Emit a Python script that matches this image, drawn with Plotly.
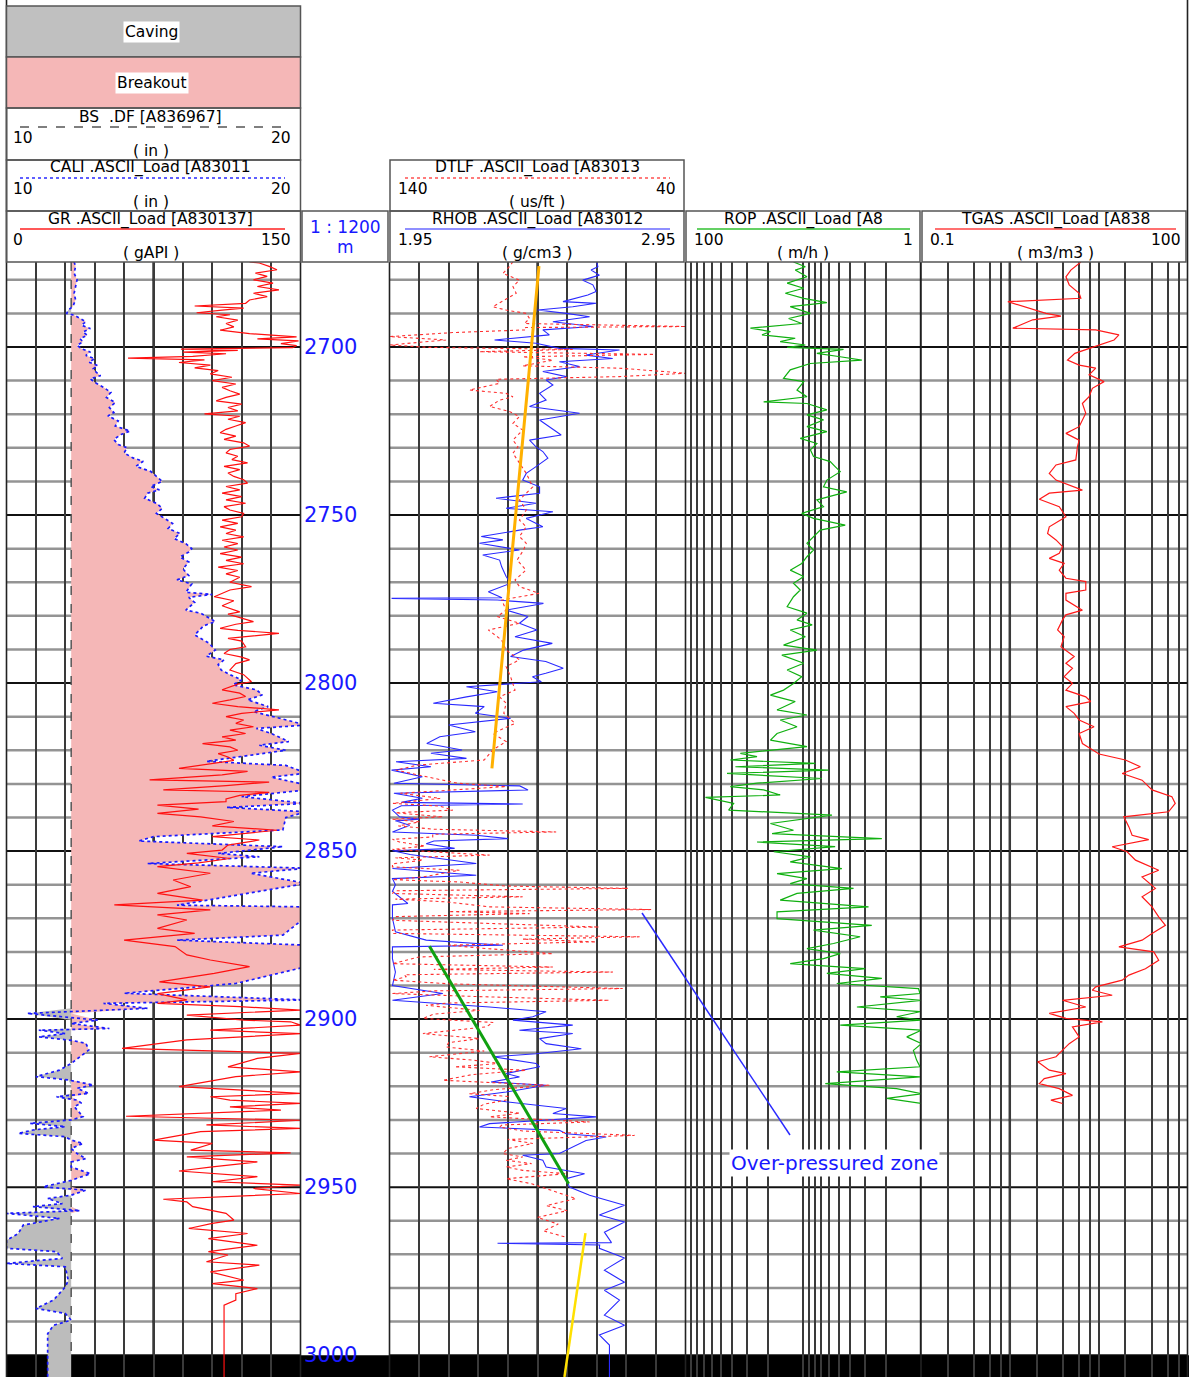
import plotly.graph_objects as go

W, H = 1189, 1377

# ---------------- data (depth m, value) ----------------
GR_LOG = [
 (2674.7,124),(2675,129),(2676,134),(2677,138),(2678,127),(2679,133),(2680,126),(2681,136),(2682,128),(2683,139),
 (2684,126),(2685,133),(2686,124),(2687,122),(2687.8,96),(2688.4,121),(2689,110),(2689.8,97),(2690.4,114),(2691,107),
 (2692,118),(2693,112),(2694,116),(2695,109),(2696,124),(2697,148),(2697.6,128),(2698.2,149),(2699,140),(2699.6,148),
 (2700.2,146),(2700.6,89),(2701,118),(2701.5,90),(2702,112),(2702.8,95),(2703.3,62),(2703.8,101),(2704.6,88),(2705.4,104),
 (2706.2,96),(2707,108),(2708,104),(2709,115),(2710,105),(2711,117),(2712,110),(2713,114),(2714,119),(2715,112),
 (2716,107),(2717,120),(2718,113),(2719,118),(2719.9,101),(2720.6,119),(2721.5,113),(2722.5,122),(2723.5,117),(2724.5,112),
 (2725.5,109),(2726.5,117),(2727.5,111),(2728.5,121),(2729.5,124),(2730.5,114),(2731.5,112),(2732.5,118),(2733.5,115),(2734.5,123),
 (2735.5,111),(2736.5,119),(2737.5,113),(2738.5,116),(2739.5,121),(2740.5,123),(2741.5,112),(2742.5,119),(2743.5,110),(2744.5,120),
 (2745.5,112),(2746.5,122),(2747.5,111),(2748.5,114),(2749.5,121),(2750.5,120),(2751.5,110),(2752.5,118),(2753.5,109),(2754.5,117),
 (2755.5,112),(2756.5,121),(2757.5,110),(2758.5,118),(2759.5,111),(2760.4,118),(2761.5,109),(2762.5,120),(2763.5,112),(2764.5,121),
 (2765.5,108),(2766.5,118),(2767.5,112),(2768.5,119),(2770,114),(2771.3,125),(2772.3,114),(2774.3,106),(2775.5,116),(2777,110),
 (2778.8,119),(2779.5,113),(2781.7,126),(2782.5,117),(2783.7,109),(2784.3,118),(2785.2,139),(2786.7,113),(2787.5,120),(2789.2,122),
 (2790,114),(2791.2,111),(2792.3,120),(2793.1,124),(2794.2,117),(2796.1,114),(2797.5,121),(2799.6,125),(2800.3,118),(2802,110),
 (2803,119),(2804,122),(2805,114),(2806,105),(2807,118),(2808,139),(2809,120),(2810,112),(2811,121),(2812,117),
 (2813,126),(2814,114),(2815,122),(2816,110),(2817,117),(2818,100),(2819,114),(2820,118),(2821,108),(2822,113),
 (2823,116),(2824,104),(2825.4,88),(2826.3,123),(2827.3,110),(2828.8,73),(2829.5,134),(2830.5,112),(2831.8,80),(2832.5,134),
 (2833.4,119),(2834.5,112),(2835.3,112),(2836.3,77),(2837.5,98),(2838.8,77),(2839.8,99),(2841.2,116),(2842.5,105),(2843.8,138),
 (2845.7,105),(2846.7,129),(2848.2,113),(2849.7,110),(2850.7,92),(2852.2,114),(2853.5,98),(2854.6,77),(2856.6,104),(2858.6,85),
 (2860.6,94),(2862.6,77),(2864.6,100),(2866,55),(2867.5,104),(2869,77),(2870.5,92),(2873,77),(2874.5,96),(2876.5,60),
 (2878.4,86),(2880.9,92),(2882.4,104),(2884.4,124),(2886.4,106),(2888.9,78),(2890.4,104),(2892.4,77),(2894.3,92),(2895.3,77),
 (2896.3,119),(2897.3,150),(2898.8,92),(2900.3,121),(2900.8,145),(2901.8,150),(2903.3,104),(2904.3,150),(2906.2,92),(2908.7,59),
 (2910.2,150),(2911.7,128),(2914.2,113),(2915.7,150),(2917.1,117),(2920.1,88),(2922.1,150),(2923.1,104),(2924.1,114),(2925.1,150),
 (2926.1,114),(2927.1,140),(2928.9,61),(2930.1,150),(2931.5,102),(2932.5,150),(2933.5,99),(2936,75),(2937,105),(2939,94),
 (2939.8,145),(2941,92),(2942.5,128),(2944,105),(2945.2,88),(2946.9,128),(2948.4,105),(2949.4,150),(2950.4,126),(2951.9,150),
 (2953.6,80),(2954.4,92),(2955.8,95),(2957.8,112),(2959.8,116),(2960.8,105),(2962.3,93),(2963.8,123),(2965.3,103),(2967.3,128),
 (2969.2,103),(2970.2,113),(2972.2,102),(2973.2,129),(2975.2,104),(2977.7,121),(2978.7,105),(2980.2,128),(2981.7,117),(2983.6,117),
 (2985.1,111),(3006.5,111),
]

CALI_LOG = [
 (2674.7,12.3),(2676,12.35),(2678,12.3),(2680,12.4),(2682,12.35),(2684,12.3),(2686,12.35),(2688,12.25),(2689,12.1),(2690,12.05),
 (2690.5,12.3),(2691.5,12.5),(2692.5,12.7),(2693.5,12.55),(2694.5,12.85),(2695.5,12.6),(2696.5,12.75),(2697.5,12.5),(2698.5,12.6),(2699.5,12.4),
 (2700.5,12.55),(2701.5,12.85),(2702.5,12.7),(2703.5,13.0),(2704.5,12.8),(2705.5,13.1),(2706.5,12.95),(2707.5,13.05),(2708.5,13.2),(2709.5,12.85),
 (2710.5,13.0),(2712,13.3),(2713.5,13.55),(2715,13.4),(2716.5,13.7),(2718,13.5),(2719.5,13.65),(2720.5,13.45),(2722,13.8),(2723.5,13.7),
 (2725,14.2),(2726,13.9),(2727.5,13.65),(2729,13.8),(2730,14.1),(2731.5,14.0),(2733,14.3),(2734,14.65),(2735.5,14.4),(2737,14.9),
 (2738.5,15.1),(2740,15.3),(2741.5,14.9),(2742.5,15.2),(2743.5,14.8),(2745,14.7),(2746.5,15.1),(2748,15.3),(2749.5,15.1),(2751,15.4),
 (2752.5,15.65),(2754,15.5),(2755.5,15.9),(2757,15.7),(2758.5,16.1),(2760,16.3),(2761,16.2),(2762.5,15.9),(2764,16.2),(2766,16.0),
 (2768,16.2),(2769.3,15.8),(2770.5,16.3),(2773,16.1),(2773.6,17.0),(2774.5,16.2),(2776,16.4),(2778.3,16.1),(2779.2,16.6),(2781.7,17.1),
 (2783,16.7),(2785.7,16.4),(2788.2,16.9),(2790.2,17.1),(2792,16.8),(2793.1,17.4),(2794.5,17.2),(2796.1,17.3),(2797.5,17.6),(2799.1,18.0),
 (2800.5,17.7),(2802,18.5),(2803.5,18.7),(2805,18.2),(2807,18.9),(2808.5,18.4),(2810.5,19.3),(2812.5,20.2),(2813.5,18.5),(2815,19.0),
 (2817.4,19.6),(2818.5,18.6),(2820,19.5),(2821.5,18.2),(2823.3,16.8),(2824.5,19.5),(2826.8,20.2),(2828,19.0),(2830.3,20.2),(2831.8,20.2),
 (2833.8,18.0),(2835.8,20.2),(2837,17.5),(2838.3,20.2),(2840,19.5),(2843.7,19.4),(2845.7,15.0),(2847,14.5),(2848.7,19.4),(2850.7,17.2),
 (2851.7,18.6),(2853.7,14.8),(2855.1,20.2),(2856.6,18.3),(2859.6,20.2),(2866.1,15.8),(2866.6,20.2),(2869.5,20.2),(2875,19.4),(2876.5,15.8),
 (2878,20.2),(2884.4,20.2),(2886.9,19.0),(2889.4,17.8),(2892.3,14.0),(2894.3,20.2),(2895.3,13.3),(2896.8,14.8),(2898.3,10.7),(2900.3,13.1),
 (2901.3,12.2),(2902.8,13.5),(2903.3,11.1),(2904.3,12.0),(2905.3,11.1),(2906.3,12.2),(2907.2,12.7),(2909.2,12.8),(2911.2,12.5),(2913.2,12.2),
 (2915.2,11.8),(2917.1,11.0),(2918.1,12.1),(2919.6,12.95),(2920.6,12.4),(2922.1,12.8),(2923.1,11.7),(2924.1,12.4),(2925,12.55),(2926,12.3),
 (2929,12.6),(2930,12.2),(2931,10.8),(2932,12.0),(2933,10.9),(2934,10.4),(2935,12.0),(2936,12.2),(2937,12.6),(2938.5,12.2),
 (2940,12.4),(2941.5,12.7),(2942.5,12.2),(2944,12.2),(2946,12.85),(2948,12.2),(2949.9,11.25),(2950.9,12.7),(2952.4,12.2),(2953.4,11.4),
 (2954.9,11.9),(2955.8,10.9),(2957,12.5),(2957.8,10.0),(2959.3,11.8),(2961.3,10.57),(2963.8,10.4),(2965.8,10.0),(2968.2,10.0),(2969.2,11.7),
 (2971.2,11.9),(2972.7,10.0),(2973.7,12.0),(2977.7,12.1),(2979.7,12.0),(2983.6,11.6),(2986.1,11.0),(2987.6,12.0),(2989.6,12.2),(2991.1,11.6),
 (2993.6,11.4),(3000,11.4),(3006.5,11.4),
]
BS_VALUE = 12.2

RHOB_LOG = [
 (2674.7,2.65),(2676.1,2.654),(2677.1,2.631),(2678.6,2.659),(2680.1,2.603),(2681.5,2.637),(2683.5,2.648),(2684.5,2.62),(2686.5,2.536),(2687,2.648),
 (2688,2.569),(2689,2.451),(2690,2.547),(2691,2.626),(2692.5,2.502),(2693.9,2.637),(2694.9,2.468),(2696.4,2.49),(2697.9,2.305),(2698.9,2.445),
 (2700.4,2.524),(2700.9,2.727),(2702.4,2.614),(2703.4,2.704),(2704.4,2.524),(2705.8,2.592),(2707.3,2.468),(2708.8,2.547),(2709.8,2.479),(2711.3,2.502),
 (2713.8,2.457),(2715.8,2.479),(2717.7,2.423),(2719.7,2.592),(2721.7,2.457),(2723.7,2.49),(2726.2,2.53),(2727.7,2.423),(2729.7,2.445),(2731.1,2.468),
 (2733.1,2.485),(2735.6,2.445),(2737.6,2.412),(2739.6,2.40),(2741.6,2.457),(2743.5,2.457),(2745,2.31),(2746.5,2.445),(2748,2.344),(2749,2.502),
 (2751,2.412),(2753.5,2.468),(2754.5,2.389),(2756.4,2.26),(2757.4,2.333),(2758.4,2.254),(2760.4,2.389),(2761.9,2.265),(2763.4,2.322),(2765.4,2.329),
 (2768.3,2.344),(2770.3,2.359),(2772.8,2.284),(2774.6,2.33),(2774.8,1.957),(2775.3,2.314),(2776.3,2.47),(2778.3,2.344),(2780.2,2.418),(2782.2,2.389),
 (2784.2,2.448),(2786.2,2.374),(2788.2,2.50),(2790.2,2.403),(2792.1,2.359),(2793.6,2.478),(2795.6,2.537),(2797.1,2.478),(2798.1,2.433),(2799.6,2.463),
 (2801.1,2.21),(2802.6,2.314),(2804.1,2.21),(2806,2.098),(2807,2.27),(2809,2.24),(2810.5,2.359),(2812.5,2.15),(2814.5,2.24),(2816,2.12),
 (2818,2.076),(2819.9,2.195),(2820.9,2.09),(2822.4,2.21),(2823.4,1.972),(2824.9,2.09),(2825.9,1.957),(2827.9,2.061),(2829.8,1.965),(2830.6,2.39),
 (2831.8,2.418),(2832.8,1.965),(2834.3,2.061),(2835.5,1.99),(2836,2.40),(2836.5,1.99),(2837.8,1.96),(2839.8,1.984),(2840.5,2.05),(2841,1.97),
 (2842.3,2.018),(2844.3,1.96),(2845.3,2.243),(2846.3,2.35),(2847,2.10),(2847.8,2.074),(2849.2,2.17),(2849.9,1.96),(2851,2.02),(2852,2.1),
 (2853.7,2.243),(2855.2,1.96),(2857.2,2.243),(2858.2,1.96),(2860,1.97),(2862,1.96),(2865.6,2.012),(2866,1.96),(2870,1.96),(2874,1.97),
 (2876.5,2.074),(2878,2.333),(2878.5,1.96),(2882,1.96),(2886,1.97),(2890,1.96),(2892.4,2.13),(2894.4,1.96),(2896.4,2.288),(2897.8,2.479),
 (2899.3,2.434),(2900.3,2.367),(2901.8,2.569),(2903.3,2.389),(2904.3,2.569),(2905.8,2.457),(2907.3,2.479),(2908.8,2.598),(2910.3,2.445),(2911.2,2.299),
 (2913.2,2.445),(2914.2,2.457),(2916.2,2.344),(2917.2,2.389),(2918.7,2.293),(2919.7,2.479),(2921.7,2.344),(2923.1,2.22),(2924.6,2.344),(2926.6,2.547),
 (2928.1,2.502),(2929.1,2.648),(2930.1,2.479),(2931.1,2.288),(2932.1,2.254),(2933.1,2.524),(2934.1,2.547),(2935.1,2.682),(2936.1,2.614),(2938,2.569),
 (2940,2.524),(2940.5,2.40),(2942,2.468),(2944,2.479),(2946,2.609),(2947.5,2.547),(2950,2.558),(2952.4,2.626),(2955.4,2.744),(2958.3,2.659),
 (2960.4,2.744),(2963.4,2.676),(2966.5,2.70),(2966.7,2.315),(2967.2,2.66),(2968.2,2.659),(2971.1,2.744),(2974.7,2.676),(2978.3,2.744),(2980.7,2.676),
 (2983.6,2.727),(2988.1,2.676),(2991.1,2.744),(2994,2.659),(2997,2.693),(3006.5,2.693),
]

DTLF_LOG = [
 (2674.6,98.3),(2676.1,99.5),(2678.1,101.7),(2680.1,96.1),(2682,98.3),(2684,97.2),(2686,101.1),(2688,105.1),(2689,100.6),(2690,93.8),
 (2691.5,92.7),(2693,94.4),(2693.9,39.8),(2694.2,94),(2694.9,93.8),(2695.7,118.6),(2696.9,140),(2697.9,120.9),(2699.4,140),(2700.1,126.5),
 (2700.7,78.1),(2701.4,109.6),(2702.2,50.5),(2702.9,95),(2703.9,84.8),(2705.6,95),(2706.3,62.3),(2707.8,39.8),(2708.8,62.3),(2709.6,104),
 (2710.8,102.8),(2712.8,113),(2713.8,100.6),(2714.8,98.3),(2715.8,102.8),(2717.7,106.2),(2719.2,99.5),(2720.7,96.1),(2722.7,98.3),(2724.7,95),
 (2727.7,98.3),(2729.7,96.6),(2731.6,98.3),(2734.6,96.1),(2737.6,93.8),(2741.6,91.6),(2743.5,93.8),(2745.5,96.1),(2748.5,93.8),(2751.5,96.1),
 (2753.5,93.8),(2756.4,96.1),(2758.4,93.8),(2760.4,94.7),(2763.4,96.9),(2766.4,93.9),(2769.3,97.6),(2771.3,96.1),(2773.3,89.5),(2775.3,102.1),
 (2778.3,100.6),(2780.2,103.6),(2782.2,96.1),(2784.2,106.6),(2787.2,102.1),(2790.2,100.6),(2793.1,96.1),(2795.1,100.6),(2798.1,99.1),(2800.1,98.4),
 (2802.1,97.6),(2804.1,102.8),(2806,100.6),(2809,101.4),(2812,97.6),(2815,105.1),(2817.4,100.6),(2819.9,105.1),(2822.9,108),(2824.4,130.4),
 (2825.9,137.8),(2827.9,127.4),(2829.8,117),(2830.8,100.6),(2832.8,136.3),(2834.3,122.9),(2835.8,138.9),(2836.6,123.1),(2837.8,118.6),(2838.6,138),
 (2839.8,122),(2840.5,139),(2841.3,129.9),(2842.5,137),(2843.5,125),(2844.3,83.7),(2845,125.4),(2845.8,125.4),(2846.5,139),(2847.3,136.6),
 (2848.5,128),(2849.5,139),(2851.2,106.2),(2852,138),(2852.7,128.7),(2853.8,139),(2854.7,139),(2855.7,116.4),(2857.7,128.7),(2858.5,139),
 (2859.2,116.4),(2860.4,100.6),(2861.1,59.5),(2861.8,138),(2862.6,139),(2863.6,95),(2864.3,138),(2865.1,120.9),(2866.6,106.2),(2867.4,51.6),
 (2868,120),(2868.6,92.7),(2869.5,138),(2870.6,139),(2871.5,110),(2872.6,69.1),(2873.5,139),(2874.5,138.9),(2875.5,55.5),(2876.2,95),
 (2877,70.2),(2878,120),(2879,107.3),(2880.5,84.8),(2881.5,130),(2883.5,139),(2884.5,84.8),(2885.2,125),(2886,64.5),(2886.8,135),
 (2887.4,134.4),(2888.4,139),(2889.5,120),(2890.9,61.2),(2891.6,125),(2892.4,139),(2893.3,110),(2894.4,65.7),(2895.2,120),(2895.9,127.6),
 (2897.4,109.6),(2898.5,125),(2899.8,128.7),(2901,105),(2902.3,107.3),(2903.3,118),(2904.3,128.7),(2905.8,109.6),(2907,120),(2908.3,120.9),
 (2909.5,108),(2911.2,126.5),(2912.2,112),(2913.2,102.8),(2914.2,118),(2915.2,93.8),(2916.5,112),(2918.2,122),(2919.7,85.9),(2921,105),
 (2922.2,113),(2923,100),(2924.1,100.6),(2925.3,108),(2926.6,110.7),(2928,96),(2929.1,106.2),(2930.6,72.4),(2931.5,102),(2932.1,102.8),
 (2933.3,95),(2934.6,57.2),(2935.8,100),(2937,91.6),(2938.5,100),(2940,101.7),(2941,95),(2942,100.6),(2943,92),(2944,100.6),
 (2945,95),(2946,80.3),(2947.5,100.6),(2949,92),(2951,85),(2953.4,77),(2955.5,87),(2957,80),(2959,90),(2961,83),
 (2963,88),(2965,80),
]

ROP_LOG = [
 (2674.7,12.1),(2676.1,9.6),(2677.1,11.7),(2679.1,9.3),(2681.0,13.7),(2682.5,9.9),(2684.0,14.2),(2685.5,9.9),(2686.8,6.3),(2688.0,12.9),
 (2690.0,8.7),(2691.5,13.3),(2693.0,10.3),(2694.4,28.1),(2695.4,19.0),(2696.4,22.4),(2697.4,11.7),(2698.4,15.7),(2699.4,9.6),(2700.1,13.7),
 (2700.7,4.55),(2701.9,7.66),(2702.9,4.85),(2703.9,3.18),(2704.9,8.7),(2706.8,12.9),(2709.3,14.7),(2710.3,9.9),(2712.8,11.3),(2714.8,9.3),
 (2716.3,21.7),(2716.8,9.3),(2718.7,6.3),(2720.2,9.3),(2721.7,6.73),(2723.7,9.3),(2725.2,6.3),(2727.2,10.6),(2728.7,7.66),(2730.6,8.7),
 (2732.6,8.18),(2734.1,5.9),(2735.6,5.36),(2737.1,4.85),(2739.6,6.3),(2741.6,6.73),(2743.1,4.27),(2745.5,7.66),(2747.5,6.73),(2749.5,10.3),
 (2751,8.18),(2753,4.4),(2754.5,7.18),(2756.4,8.18),(2758.4,9.3),(2760.4,8.18),(2762.4,9.3),(2764.4,10.3),(2766.4,12.9),(2768.3,9.9),
 (2770.3,12.1),(2772.3,10.6),(2774.3,12.1),(2777.3,13.7),(2779.2,9.3),(2781.2,11.3),(2782.7,8.4),(2784.2,12.9),(2786.2,9.6),(2788.7,14.7),
 (2790.2,7.66),(2791.7,15.2),(2794.1,9.9),(2796.1,13.7),(2798.1,10.3),(2800.1,12.1),(2802.1,14.7),(2803.6,19.0),(2805.5,11.7),(2808,16.7),
 (2809.5,9.3),(2811,15.7),(2813,11.3),(2815,16.7),(2817,19.0),(2818.9,9.3),(2820.9,34.2),(2821.9,24.7),(2822.9,41.6),(2823.9,7.9),
 (2824.9,37.7),(2825.9,6.1),(2826.9,44.4),(2828.4,6.95),(2829.8,24.7),(2830.8,41.6),(2831.8,21.7),(2833.3,15.7),(2834,67.7),(2835.8,39),
 (2837.8,43),(2839.3,5.7),(2840.8,12.1),(2841.8,19),(2843.8,12.1),(2844.8,18.4),(2846.3,2.15),(2847.3,24.7),(2848.7,5.36),(2850.2,17.8),
 (2851.7,8.7),(2853.2,12.9),(2855.2,4.7),(2856.7,16.7),(2858.2,9.3),(2859.7,12.9),(2861.1,3.74),(2862.6,11.3),(2864.6,15.7),(2866.6,2.79),
 (2868.1,16.7),(2870.1,16.7),(2872.1,2.62),(2873.5,8.18),(2875.5,3.29),(2877.5,5.53),(2879,9.3),(2880.5,4.85),(2882,6.73),(2883.5,12.9),
 (2885,2.98),(2886.4,6.3),(2887.9,2.15),(2889.4,5.19),(2890.9,1.05),(2892.4,1.02),(2893.4,2.22),(2894.4,0.99),(2896.4,3.5),(2897.8,1.02),
 (2899.3,1.61),(2900.3,0.99),(2901.8,4.85),(2903.3,0.99),(2905.3,1.32),(2907.3,0.99),(2909.3,1.16),(2912.2,1.09),(2914.2,1.02),(2915.7,5.19),
 (2917.2,1.02),(2919.2,6.5),(2920.7,1.61),(2922.2,0.99),(2923.6,1.95),(2925.1,0.99),
]

TGAS_LOG = [
 (2674.7,6.3),(2675.1,6.03),(2677.1,4.86),(2679.1,4.28),(2681.5,4.66),(2684.0,6.03),(2685.5,6.3),(2686.5,0.95),(2687.5,1.28),(2690.0,2.55),
 (2690.8,3.76),(2691.9,1.81),(2694.4,1.08),(2694.9,9.27),(2696.4,16.9),(2697.9,14.9),(2700.1,8.49),(2701.9,5.4),(2703.9,4.46),(2705.4,6.03),
 (2706.3,9.27),(2708.3,7.8),(2710.3,11.5),(2712.3,8.49),(2714.8,7.8),(2716.8,6.56),(2719.7,7.16),(2721.7,6.56),(2723.7,6.03),(2725.7,4.28),
 (2727.7,6.03),(2729.7,5.77),(2733.6,5.53),(2735.1,3.31),(2737.6,2.78),(2739.6,3.31),(2742.6,6.56),(2743.5,2.78),(2745.3,2.15),(2747.5,3.6),
 (2750.5,4.28),(2753.5,2.78),(2755.5,2.66),(2757.4,3.31),(2759.4,3.92),(2761.4,3.6),(2762.9,2.78),(2764.4,4.09),(2766.4,3.6),(2768.8,4.28),
 (2769.8,7.16),(2772.3,7.16),(2773.3,4.28),(2775.3,4.28),(2778.3,6.56),(2779.7,4.28),(2781.2,3.92),(2784.2,3.45),(2786.2,4.09),(2789.2,3.76),
 (2792.1,5.3),(2794.1,4.28),(2795.6,5.07),(2798.1,4.09),(2800.1,5.07),(2802.1,4.28),(2804.1,7.16),(2805.5,8.14),(2807,4.28),(2809,5.3),
 (2811,6.03),(2813,8.87),(2815,6.03),(2818,6.56),(2819.9,8.49),(2821.1,10.1),(2822.9,20),(2824.9,29.5),(2826.9,18.4),(2828.9,30.8),
 (2831.8,39.9),(2833.8,66.7),(2835.8,72.8),(2838.3,61.2),(2839.8,19.2),(2842.8,21.9),(2845.3,23.8),(2846.6,36.6),(2848.7,14.2),(2850.2,20.9),
 (2852.7,26),(2855.7,47.4),(2857.7,30.8),(2861.1,43.5),(2863.6,30.8),(2866.6,39.9),(2869.6,47.4),(2872.1,56.4),(2874.5,39.9),(2876.5,30.8),
 (2878.5,16.9),(2880,41.7),(2882.5,47.4),(2885,33.6),(2886.9,21.9),(2888.4,18.4),(2890.4,9.27),(2891.4,8.49),(2892.9,14.2),(2894.4,3.92),
 (2896.4,7.16),(2898.3,2.78),(2899.8,4.28),(2900.8,11),(2902.3,5.07),(2905.3,6.03),(2907.3,4.66),(2909.3,3.92),(2911.2,3.31),(2912.7,2.06),
 (2915.2,2.78),(2916.2,4.28),(2917.7,2.44),(2919.2,2.15),(2920.7,3.6),(2922.7,5.07),(2924.1,2.9),(2925.1,3.92),
]

# compaction-trend lines drawn on the DT scale (depth, us/ft)
ORANGE_TREND = [(2675.9, 89.5), (2825.4, 105.4)]
GREEN_TREND = [(2878.3, 126.5), (2949.0, 79.5)]
YELLOW_TREND = [(2963.7, 73.8), (3006.5, 80.9)]

DEPTH_LABELS = [2700, 2750, 2800, 2850, 2900, 2950, 3000]
GRID_DEPTHS = list(range(2680, 3001, 10))
DEPTH_TOP, DEPTH_BOTTOM, LOG_BOTTOM = 2674.7, 3006.5, 3000
ROP_GRID = [1, 2, 3, 4, 5, 6, 7, 8, 9, 10, 20, 30, 40, 50, 60, 70, 80, 90, 100]
TGAS_GRID = [0.1, 0.2, 0.4, 0.6, 0.8, 1, 2, 4, 6, 8, 10, 20, 40, 60, 80, 100]
CALI_GRID = [10, 11, 12, 13, 14, 15, 16, 17, 18, 19, 20]
RHOB_GRID = [1.95, 2.05, 2.15, 2.25, 2.35, 2.45, 2.55, 2.65, 2.75, 2.85, 2.95]

TITLES = {
    "bs": "BS  .DF [A836967]", "cali": "CALI .ASCII_Load [A83011", "gr": "GR .ASCII_Load [A830137]",
    "dtlf": "DTLF .ASCII_Load [A83013", "rhob": "RHOB .ASCII_Load [A83012",
    "rop": "ROP .ASCII_Load [A8", "tgas": "TGAS .ASCII_Load [A838",
}


def split(log):
    return [d for d, _ in log], [v for _, v in log]


# ---------------- figure ----------------
HFONT = "DejaVu Sans, sans-serif"
DFONT = "DejaVu Sans, sans-serif"
HSIZE = 15.5
BLUE_TXT = "#1818ff"
GRID = "#3a3a3a"
T1 = (6.5, 300.5)
T3 = (389.5, 685.5)
T4 = (685.5, 921.0)
T5 = (921.0, 1187.5)
TOP_PX = 262
TOP = 1 - TOP_PX / H


def dom(t):
    return [t[0] / W, t[1] / W]


fig = go.Figure()

# caliper fills vs bit size
cd, cv = split(CALI_LOG)
bs = [BS_VALUE] * len(cd)
upper = [max(v, BS_VALUE) for v in cv]
lower = [min(v, BS_VALUE) for v in cv]
common_tr = dict(hoverinfo="skip", showlegend=False)
fig.add_trace(go.Scatter(x=bs, y=cd, xaxis="x", yaxis="y", mode="lines", line=dict(width=0), **common_tr))
fig.add_trace(go.Scatter(x=upper, y=cd, xaxis="x", yaxis="y", mode="lines", line=dict(width=0),
                         fill="tonextx", fillcolor="#f5b7b7", **common_tr))
fig.add_trace(go.Scatter(x=bs, y=cd, xaxis="x", yaxis="y", mode="lines", line=dict(width=0), **common_tr))
fig.add_trace(go.Scatter(x=lower, y=cd, xaxis="x", yaxis="y", mode="lines", line=dict(width=0),
                         fill="tonextx", fillcolor="#bcbcbc", **common_tr))
fig.add_trace(go.Scatter(x=[BS_VALUE, BS_VALUE], y=[DEPTH_TOP, LOG_BOTTOM], xaxis="x", yaxis="y", mode="lines",
                         line=dict(color="#555555", width=1.5, dash="dash"), **common_tr))
fig.add_trace(go.Scatter(x=cv, y=cd, xaxis="x", yaxis="y", mode="lines",
                         line=dict(color="#1a1aff", width=1.7, dash="dot"), **common_tr))
gd, gv = split(GR_LOG)
fig.add_trace(go.Scatter(x=gv, y=gd, xaxis="x2", yaxis="y", mode="lines",
                         line=dict(color="#ff1010", width=1.2), **common_tr))

# density / sonic track
rd, rv = split(RHOB_LOG)
fig.add_trace(go.Scatter(x=rv, y=rd, xaxis="x3", yaxis="y", mode="lines",
                         line=dict(color="#2a2aff", width=1.1), **common_tr))
dd, dv = split(DTLF_LOG)
fig.add_trace(go.Scatter(x=dv, y=dd, xaxis="x4", yaxis="y", mode="lines",
                         line=dict(color="#ff3030", width=1.1, dash="dot"), **common_tr))
for trend, col, wd in [(ORANGE_TREND, "#ffb000", 3), (GREEN_TREND, "#10a010", 3), (YELLOW_TREND, "#ffe000", 2.5)]:
    td, tv = split(trend)
    fig.add_trace(go.Scatter(x=tv, y=td, xaxis="x4", yaxis="y", mode="lines",
                             line=dict(color=col, width=wd), **common_tr))

# ROP and TGAS
pd_, pv = split(ROP_LOG)
fig.add_trace(go.Scatter(x=pv, y=pd_, xaxis="x5", yaxis="y", mode="lines",
                         line=dict(color="#10b010", width=1.2), **common_tr))
td_, tv_ = split(TGAS_LOG)
fig.add_trace(go.Scatter(x=tv_, y=td_, xaxis="x6", yaxis="y", mode="lines",
                         line=dict(color="#ff1a1a", width=1.2), **common_tr))

ax_common = dict(showticklabels=False, ticks="", zeroline=False, showline=False, fixedrange=True, anchor="y")
grid_kw = dict(showgrid=True, gridcolor=GRID, gridwidth=1.5)

shapes = []
annotations = []

# horizontal depth grid in each track
for xr in ["x domain", "x3 domain", "x5 domain", "x6 domain"]:
    for d in GRID_DEPTHS:
        major = d % 50 == 0
        shapes.append(dict(type="line", xref=xr, yref="y", x0=0, x1=1, y0=d, y1=d, layer="below",
                           line=dict(color="#111111" if major else "rgba(0,0,0,0.42)", width=2 if major else 2.5)))

# heavier vertical lines at mid / decade positions
shapes.append(dict(type="line", xref="x", yref="paper", x0=15, x1=15, y0=0, y1=TOP, layer="below",
                   line=dict(color="#111", width=2.2)))
shapes.append(dict(type="line", xref="x3", yref="paper", x0=2.45, x1=2.45, y0=0, y1=TOP, layer="below",
                   line=dict(color="#111", width=2.2)))
shapes.append(dict(type="line", xref="x5", yref="paper", x0=1, x1=1, y0=0, y1=TOP, layer="below",
                   line=dict(color="#111", width=2.4)))
for lv in [0, 1]:
    shapes.append(dict(type="line", xref="x6", yref="paper", x0=lv, x1=lv, y0=0, y1=TOP, layer="below",
                       line=dict(color="#111", width=2.4)))

# black band below the logged interval
shapes.append(dict(type="rect", xref="paper", yref="y", x0=6 / W, x1=1, y0=LOG_BOTTOM, y1=DEPTH_BOTTOM,
                   fillcolor="black", line=dict(width=0), layer="between"))

# track borders
for xb in [6.5, 300.5, 389.5, 685.5, 921.0, 1187.5]:
    y_top = 1 if xb in (6.5, 1187.5) else TOP
    shapes.append(dict(type="line", xref="paper", yref="paper", x0=xb / W, x1=xb / W, y0=0, y1=y_top,
                       line=dict(color="#222", width=1.6)))


def rect(x0, y0, x1, y1, fill="rgba(0,0,0,0)"):
    shapes.append(dict(type="rect", xref="paper", yref="paper", x0=x0 / W, x1=x1 / W, y0=1 - y1 / H, y1=1 - y0 / H,
                       fillcolor=fill, line=dict(color="#555", width=1.5)))


def hline(x0, x1, y, color, width=1.5, dash="solid"):
    shapes.append(dict(type="line", xref="paper", yref="paper", x0=x0 / W, x1=x1 / W, y0=1 - y / H, y1=1 - y / H,
                       line=dict(color=color, width=width, dash=dash)))


def text(x, y, s, anchor="center", size=HSIZE, color="black", family=HFONT, bg="rgba(0,0,0,0)"):
    annotations.append(dict(xref="paper", yref="paper", x=x / W, y=1 - y / H, text=s, showarrow=False,
                            xanchor=anchor, yanchor="middle", bgcolor=bg, borderpad=1,
                            font=dict(size=size, color=color, family=family)))


# header: track 1
rect(6.5, 6, 300.5, 57, "#c0c0c0")
text(151, 32, "Caving", bg="white")
rect(6.5, 57, 300.5, 108, "#f5b7b7")
text(152, 83, "Breakout", bg="white")
rect(6.5, 108, 300.5, 160)
text(150, 117, TITLES["bs"])
hline(20, 285, 127, "#555", 1.5, "dash")
text(11, 138, "10", "left"); text(293, 138, "20", "right"); text(151, 151, "( in )")
rect(6.5, 160, 300.5, 211)
text(150, 168, TITLES["cali"])
hline(20, 285, 178, "#2a2aff", 1.6, "dot")
text(11, 189, "10", "left"); text(293, 189, "20", "right"); text(151, 202, "( in )")
rect(6.5, 211, 300.5, 262)
text(150, 219, TITLES["gr"])
hline(20, 285, 229, "#ff2020", 1.5)
text(11, 240, "0", "left"); text(293, 240, "150", "right"); text(151, 253, "( gAPI )")
# header: depth
rect(302, 211, 388, 262)
text(345, 227, "1 : 1200", size=17, color=BLUE_TXT, family=DFONT)
text(345, 247, "m", size=17, color=BLUE_TXT, family=DFONT)
# header: track 3
rect(390, 160, 684, 211)
text(537, 168, TITLES["dtlf"])
hline(405, 670, 178, "#ff5050", 1.6, "dot")
text(396, 189, "140", "left"); text(678, 189, "40", "right"); text(537, 202, "( us/ft )")
rect(390, 211, 684, 262)
text(537, 219, TITLES["rhob"])
hline(405, 670, 229, "#6a6aff", 1.5)
text(396, 240, "1.95", "left"); text(678, 240, "2.95", "right"); text(537, 253, "( g/cm3 )")
# header: ROP
rect(686, 211, 920, 262)
text(803, 219, TITLES["rop"])
hline(697, 910, 229, "#30c030", 1.5)
text(692, 240, "100", "left"); text(915, 240, "1", "right"); text(803, 253, "( m/h )")
# header: TGAS
rect(922, 211, 1186, 262)
text(1055, 219, TITLES["tgas"])
hline(935, 1176, 229, "#ff4040", 1.5)
text(928, 240, "0.1", "left"); text(1183, 240, "100", "right"); text(1055, 253, "( m3/m3 )")

# depth labels
for d in DEPTH_LABELS:
    annotations.append(dict(xref="paper", yref="y", x=302 / W, y=d, text=str(d), showarrow=False,
                            xanchor="left", yanchor="middle",
                            font=dict(size=21, color=BLUE_TXT, family=DFONT)))

# over-pressure annotation
shapes.append(dict(type="line", xref="paper", yref="paper", x0=642 / W, y0=1 - 913 / H, x1=790 / W, y1=1 - 1135 / H,
                   line=dict(color="#2a2aff", width=1.5)))
text(834, 1163, "Over-pressured zone", size=20, color=BLUE_TXT, family=DFONT, bg="white")

fig.update_layout(
    width=W, height=H, margin=dict(l=0, r=0, t=0, b=0),
    paper_bgcolor="white", plot_bgcolor="white", showlegend=False, hovermode=False,
    xaxis=dict(domain=dom(T1), range=[10, 20], tickvals=CALI_GRID, **grid_kw, **ax_common),
    xaxis2=dict(domain=dom(T1), range=[0, 150], overlaying="x", showgrid=False, **ax_common),
    xaxis3=dict(domain=dom(T3), range=[1.95, 2.95], tickvals=RHOB_GRID, **grid_kw, **ax_common),
    xaxis4=dict(domain=dom(T3), range=[140, 40], overlaying="x3", showgrid=False, **ax_common),
    xaxis5=dict(domain=dom(T4), type="log", range=[2, 0], tickvals=ROP_GRID, **grid_kw, **ax_common),
    xaxis6=dict(domain=dom(T5), type="log", range=[-1, 2], tickvals=TGAS_GRID, **grid_kw, **ax_common),
    yaxis=dict(domain=[0, TOP], range=[DEPTH_BOTTOM, DEPTH_TOP], showgrid=False, showticklabels=False, ticks="",
               zeroline=False, showline=False, fixedrange=True),
    shapes=shapes, annotations=annotations,
)

fig.write_html("out.html", config={"displayModeBar": False},
               post_script="document.body.style.margin='0px';document.body.style.overflow='hidden';")
